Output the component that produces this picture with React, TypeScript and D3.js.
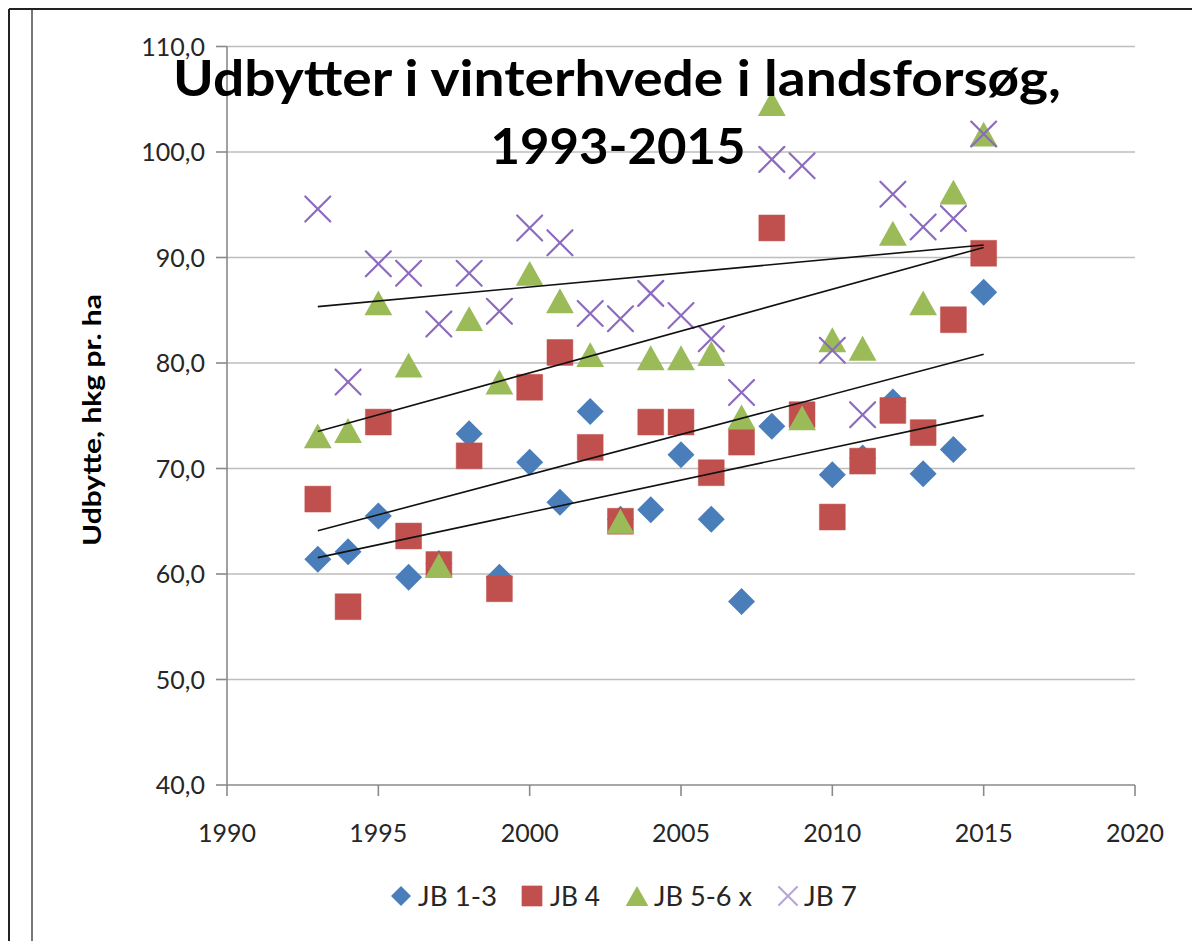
import React from "react";
import * as d3 from "d3";

const years = [1993, 1994, 1995, 1996, 1997, 1998, 1999, 2000, 2001, 2002, 2003, 2004, 2005, 2006, 2007, 2008, 2009, 2010, 2011, 2012, 2013, 2014, 2015];
const jb13: (number | null)[] = [61.4, 62.1, 65.5, 59.7, 61.0, 73.3, 59.7, 70.6, 66.8, 75.4, 65.2, 66.1, 71.3, 65.2, 57.4, 74.0, null, 69.4, 71.0, 76.3, 69.5, 71.8, 86.7];
const jb4: (number | null)[] = [67.1, 56.9, 74.4, 63.6, 60.9, 71.2, 58.6, 77.7, 81.0, 72.0, 65.0, 74.4, 74.4, 69.6, 72.5, 92.8, 75.1, 65.4, 70.7, 75.5, 73.4, 84.1, 90.4];
const jb56: (number | null)[] = [73.1, 73.6, 85.7, 79.8, 60.8, 84.2, 78.2, 88.5, 85.9, 80.8, 65.0, 80.5, 80.5, 80.9, 74.9, 104.6, 74.8, 82.2, 81.4, 92.3, 85.7, 96.2, 101.7];
const jb7: (number | null)[] = [94.6, 78.2, 89.4, 88.5, 83.7, 88.5, 84.9, 92.8, 91.4, 84.7, 84.2, 86.6, 84.5, 82.3, 77.2, 99.3, 98.7, 81.2, 75.1, 96.0, 92.9, 93.7, 101.7];

const seriesNames = ["JB 1-3", "JB 4", "JB 5-6 x", "JB 7"];
const yTicks = [40, 50, 60, 70, 80, 90, 100, 110];
const xTicks = [1990, 1995, 2000, 2005, 2010, 2015, 2020];
const titleLines = ["Udbytter i vinterhvede i landsforsøg,", "1993-2015"];
const yTitle = "Udbytte, hkg pr. ha";

const W = 1192;
const H = 941;
const colors = ["#4A7EBB", "#C0504D", "#9BBB59", "#8C6BBF"];
const shapes = ["diamond", "square", "triangle", "x"];
const FONT = "Lato, 'Open Sans', sans-serif";

function regress(vals: (number | null)[]) {
  const pts = years.map((yr, i) => [yr, vals[i]] as [number, number | null]).filter((p) => p[1] != null) as [number, number][];
  const mx = d3.mean(pts, (p) => p[0])!;
  const my = d3.mean(pts, (p) => p[1])!;
  let num = 0, den = 0;
  pts.forEach(([a, b]) => { num += (a - mx) * (b - my); den += (a - mx) * (a - mx); });
  const slope = num / den;
  return (t: number) => my + slope * (t - mx);
}

function Marker({ shape, cx, cy, color, s }: { shape: string; cx: number; cy: number; color: string; s: number }) {
  if (shape === "diamond") {
    const p = d3.symbol().type(d3.symbolSquare).size(s * s * 0.5)();
    return <path d={p!} transform={`translate(${cx},${cy}) rotate(45)`} fill={color} />;
  }
  if (shape === "square") {
    const p = d3.symbol().type(d3.symbolSquare).size(s * s * 0.92)();
    return <path d={p!} transform={`translate(${cx},${cy})`} fill={color} stroke={color} strokeWidth={0.5} />;
  }
  if (shape === "triangle") {
    const w = s * 1.03, h = s * 0.92;
    const d = `M${cx},${cy - h / 2}L${cx + w / 2},${cy + h / 2}L${cx - w / 2},${cy + h / 2}Z`;
    return <path d={d} fill={color} />;
  }
  const r = s / 2 - 1;
  return (
    <g stroke={color} strokeWidth={2.2} strokeLinecap="round">
      <line x1={cx - r} y1={cy - r} x2={cx + r} y2={cy + r} />
      <line x1={cx - r} y1={cy + r} x2={cx + r} y2={cy - r} />
    </g>
  );
}

export default function App() {
  const x = d3.scaleLinear().domain([1990, 2020]).range([227, 1135]);
  const y = d3.scaleLinear().domain([40, 110]).range([785, 46.5]);
  const data = [jb13, jb4, jb56, jb7];
  const legendX = [401, 532, 637, 788];
  const legendTextX = [418, 550, 654, 804];
  const legendTextW = [79, 50, 98, 53];
  const legendSize = [20, 21, 22, 20];

  return (
    <svg width={W} height={H} style={{ position: "absolute", left: 0, top: 0, background: "#fff" }} fontFamily={FONT}>
      <rect x={0} y={0} width={W} height={H} fill="#fff" />
      {/* frame */}
      <line x1={9} y1={9} x2={W} y2={9} stroke="#222" strokeWidth={2} />
      <line x1={9} y1={9} x2={9} y2={H} stroke="#222" strokeWidth={2} />
      <line x1={32} y1={10} x2={32} y2={H} stroke="#777" strokeWidth={2} />

      {/* gridlines & y ticks */}
      {yTicks.map((t) => (
        <g key={t}>
          {t > 40 && <line x1={x(1990)} x2={x(2020)} y1={y(t)} y2={y(t)} stroke="#BDBDBD" strokeWidth={1.6} />}
          <line x1={x(1990) - 11} x2={x(1990)} y1={y(t)} y2={y(t)} stroke="#8A8A8A" strokeWidth={1.6} />
          <text x={205} y={y(t)} dy="0.36em" textAnchor="end" fontSize={25} fill="#262626">
            {t.toFixed(1).replace(".", ",")}
          </text>
        </g>
      ))}
      {/* axes */}
      <line x1={x(1990)} x2={x(1990)} y1={y(110)} y2={y(40)} stroke="#8A8A8A" strokeWidth={1.6} />
      <line x1={x(1990)} x2={x(2020)} y1={y(40)} y2={y(40)} stroke="#8A8A8A" strokeWidth={1.6} />
      {xTicks.map((t) => (
        <g key={t}>
          <line x1={x(t)} x2={x(t)} y1={y(40)} y2={y(40) + 11} stroke="#8A8A8A" strokeWidth={1.6} />
          <text x={x(t)} y={842} textAnchor="middle" fontSize={25} fill="#262626">{t}</text>
        </g>
      ))}

      {/* markers */}
      {data.map((vals, si) => (
        <g key={si}>
          {vals.map((v, i) => v == null ? null : (
            <Marker key={i} shape={shapes[si]} cx={x(years[i])} cy={y(v)} color={colors[si]} s={27} />
          ))}
        </g>
      ))}

      {/* trendlines */}
      {data.map((vals, si) => {
        const f = regress(vals);
        return (
          <line key={si} x1={x(1993)} y1={y(f(1993))} x2={x(2015)} y2={y(f(2015))} stroke="#111" strokeWidth={1.6} />
        );
      })}

      {/* title */}
      <text x={617} y={96} textAnchor="middle" fontSize={50} fontWeight="bold" fill="#000" textLength={888} lengthAdjust="spacingAndGlyphs">
        {titleLines[0]}
      </text>
      <text x={618} y={164} textAnchor="middle" fontSize={50} fontWeight="bold" fill="#000" textLength={255} lengthAdjust="spacingAndGlyphs">
        {titleLines[1]}
      </text>

      {/* y title */}
      <text transform={`translate(101,420) rotate(-90)`} textAnchor="middle" fontSize={24} fontWeight="bold" fill="#000" textLength={252} lengthAdjust="spacingAndGlyphs">
        {yTitle}
      </text>

      {/* legend */}
      {seriesNames.map((n, i) => (
        <g key={n}>
          <Marker shape={shapes[i]} cx={legendX[i]} cy={896} color={i === 3 ? "#B9A6DA" : colors[i]} s={legendSize[i]} />
          <text x={legendTextX[i]} y={896} dy="0.36em" fontSize={27} fill="#262626" textLength={legendTextW[i]} lengthAdjust="spacingAndGlyphs">{n}</text>
        </g>
      ))}
    </svg>
  );
}
